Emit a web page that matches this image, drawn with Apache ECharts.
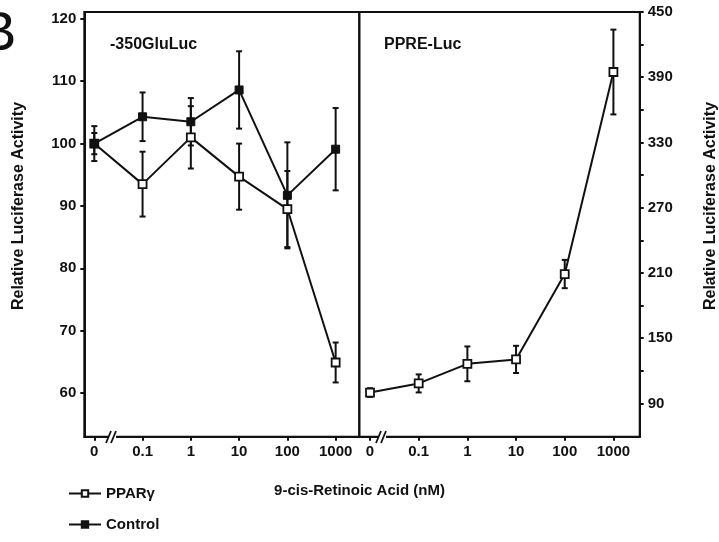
<!DOCTYPE html>
<html><head><meta charset="utf-8">
<script src="https://cdn.jsdelivr.net/npm/echarts@6/dist/echarts.min.js"></script>
<style>html,body{margin:0;padding:0;background:#fff}#c{width:719px;height:542px}</style>
</head><body><div id="c"></div>
<script>
const categories = ['0', '0.1', '1', '10', '100', '1000'];
const pparLeft = [100.0, 93.5, 101.0, 94.7, 89.5, 64.9];
const pparLeftErr = [1.7, 5.2, 5.0, 5.3, 6.1, 3.2];
const ctrlLeft = [100.0, 104.3, 103.5, 108.6, 91.7, 99.1];
const ctrlLeftErr = [2.8, 3.9, 3.8, 6.2, 8.5, 6.6];
const pparRight = [100.0, 108.4, 126.4, 130.5, 209.0, 394.8];
const pparRightErr = [4.0, 8.3, 16.0, 12.5, 13.0, 39.0];
const leftTicks = [60, 70, 80, 90, 100, 110, 120];
const rightLabels = [90, 150, 210, 270, 330, 390, 450];
const rightTicks = [90, 120, 150, 180, 210, 240, 270, 300, 330, 360, 390, 420, 450];
const yName = 'Relative Luciferase Activity';
const xName = '9-cis-Retinoic Acid (nM)';

const FONT = '"Liberation Sans", Arial, sans-serif';
const idx = categories.map((c, i) => i);
const toPts = arr => arr.map((v, i) => [i, v]);
const toErr = (arr, err) => arr.map((v, i) => [i, v - err[i], v + err[i]]);

function errItem(params, api) {
  const x = api.value(0);
  const lo = api.coord([x, api.value(1)]);
  const hi = api.coord([x, api.value(2)]);
  const w = 3;
  const st = {stroke: '#111', lineWidth: 2};
  return {type: 'group', children: [
    {type: 'line', shape: {x1: lo[0], y1: lo[1], x2: hi[0], y2: hi[1]}, style: st},
    {type: 'line', shape: {x1: lo[0] - w, y1: lo[1], x2: lo[0] + w, y2: lo[1]}, style: st},
    {type: 'line', shape: {x1: hi[0] - w, y1: hi[1], x2: hi[0] + w, y2: hi[1]}, style: st}
  ]};
}

const axisLine = {show: true, onZero: false, lineStyle: {color: '#111', width: 2}};
const tick = {show: true, length: 4, lineStyle: {color: '#111', width: 2}};
const lbl = {color: '#111', fontFamily: FONT, fontWeight: 'bold', fontSize: 15};

function xAx(gi, min, max) {
  return {type: 'value', gridIndex: gi, min: min, max: max, position: 'bottom',
    axisLine: axisLine, splitLine: {show: false},
    axisTick: Object.assign({customValues: idx}, tick),
    axisLabel: Object.assign({customValues: idx, margin: 8, formatter: v => categories[Math.round(v)]}, lbl)};
}

const chart = echarts.init(document.getElementById('c'));
chart.setOption({
  animation: false,
  backgroundColor: '#fff',
  grid: [
    {left: 84.3, top: 12, width: 275, height: 424.7, show: true, borderColor: '#111', borderWidth: 2, backgroundColor: 'transparent'},
    {left: 359.3, top: 12, width: 280.4, height: 424.7, show: true, borderColor: '#111', borderWidth: 2, backgroundColor: 'transparent'}
  ],
  xAxis: [xAx(0, -0.207, 5.49), xAx(1, -0.22, 5.54)],
  yAxis: [
    {type: 'value', gridIndex: 0, min: 53, max: 121.1, position: 'left',
      axisLine: axisLine, splitLine: {show: false},
      axisTick: Object.assign({customValues: leftTicks}, tick),
      axisLabel: Object.assign({customValues: leftTicks, margin: 8}, lbl)},
    {type: 'value', gridIndex: 1, min: 59.4, max: 450, position: 'right',
      axisLine: axisLine, splitLine: {show: false},
      axisTick: Object.assign({customValues: rightTicks}, tick),
      axisLabel: Object.assign({customValues: rightLabels, margin: 8}, lbl)}
  ],
  legend: {
    orient: 'vertical', left: 63, top: 481, itemGap: 16, itemWidth: 32, itemHeight: 8,
    data: ['PPARγ', 'Control'],
    textStyle: {color: '#111', fontFamily: FONT, fontWeight: 'bold', fontSize: 15}
  },
  series: [
    {type: 'custom', xAxisIndex: 0, yAxisIndex: 0, renderItem: errItem, data: toErr(ctrlLeft, ctrlLeftErr), z: 1},
    {type: 'custom', xAxisIndex: 0, yAxisIndex: 0, renderItem: errItem, data: toErr(pparLeft, pparLeftErr), z: 1},
    {type: 'custom', xAxisIndex: 1, yAxisIndex: 1, renderItem: errItem, data: toErr(pparRight, pparRightErr), z: 1},
    {name: 'PPARγ', type: 'line', xAxisIndex: 0, yAxisIndex: 0, data: toPts(pparLeft), z: 3,
      symbol: 'rect', symbolSize: 8, showAllSymbol: true,
      lineStyle: {color: '#111', width: 2}, itemStyle: {color: '#fff', borderColor: '#111', borderWidth: 1.8}},
    {name: 'Control', type: 'line', xAxisIndex: 0, yAxisIndex: 0, data: toPts(ctrlLeft), z: 3,
      symbol: 'rect', symbolSize: 8, showAllSymbol: true,
      lineStyle: {color: '#111', width: 2}, itemStyle: {color: '#111', borderColor: '#111', borderWidth: 1}},
    {name: 'PPARγ', type: 'line', xAxisIndex: 1, yAxisIndex: 1, data: toPts(pparRight), z: 3,
      symbol: 'rect', symbolSize: 8, showAllSymbol: true,
      lineStyle: {color: '#111', width: 2}, itemStyle: {color: '#fff', borderColor: '#111', borderWidth: 1.8}}
  ],
  graphic: [
    {type: 'text', left: -21, top: 7, style: {text: 'B', fontFamily: FONT, fontSize: 56, fill: '#111'}},
    {type: 'text', left: 110, top: 37, style: {text: '-350GluLuc', fontFamily: FONT, fontWeight: 'bold', fontSize: 16, fill: '#111'}},
    {type: 'text', left: 384, top: 37, style: {text: 'PPRE-Luc', fontFamily: FONT, fontWeight: 'bold', fontSize: 16, fill: '#111'}},
    {type: 'text', left: 'center', top: 483, style: {text: xName, fontFamily: FONT, fontWeight: 'bold', fontSize: 15, fill: '#111'}},
    {type: 'text', x: 19, y: 206, rotation: Math.PI / 2,
      style: {text: yName, fontFamily: FONT, fontWeight: 'bold', fontSize: 16, fill: '#111', align: 'center', verticalAlign: 'middle'}},
    {type: 'text', x: 711, y: 206, rotation: Math.PI / 2,
      style: {text: yName, fontFamily: FONT, fontWeight: 'bold', fontSize: 16, fill: '#111', align: 'center', verticalAlign: 'middle'}},
    // axis break marks
    {type: 'rect', shape: {x: 108, y: 435, width: 8, height: 4}, style: {fill: '#fff'}, z: 100},
    {type: 'line', shape: {x1: 106, y1: 443, x2: 111, y2: 431}, style: {stroke: '#111', lineWidth: 1.8}, z: 101},
    {type: 'line', shape: {x1: 111, y1: 443, x2: 116, y2: 431}, style: {stroke: '#111', lineWidth: 1.8}, z: 101},
    {type: 'rect', shape: {x: 378, y: 435, width: 8, height: 4}, style: {fill: '#fff'}, z: 100},
    {type: 'line', shape: {x1: 376, y1: 443, x2: 381, y2: 431}, style: {stroke: '#111', lineWidth: 1.8}, z: 101},
    {type: 'line', shape: {x1: 381, y1: 443, x2: 386, y2: 431}, style: {stroke: '#111', lineWidth: 1.8}, z: 101}
  ]
});
</script></body></html>
